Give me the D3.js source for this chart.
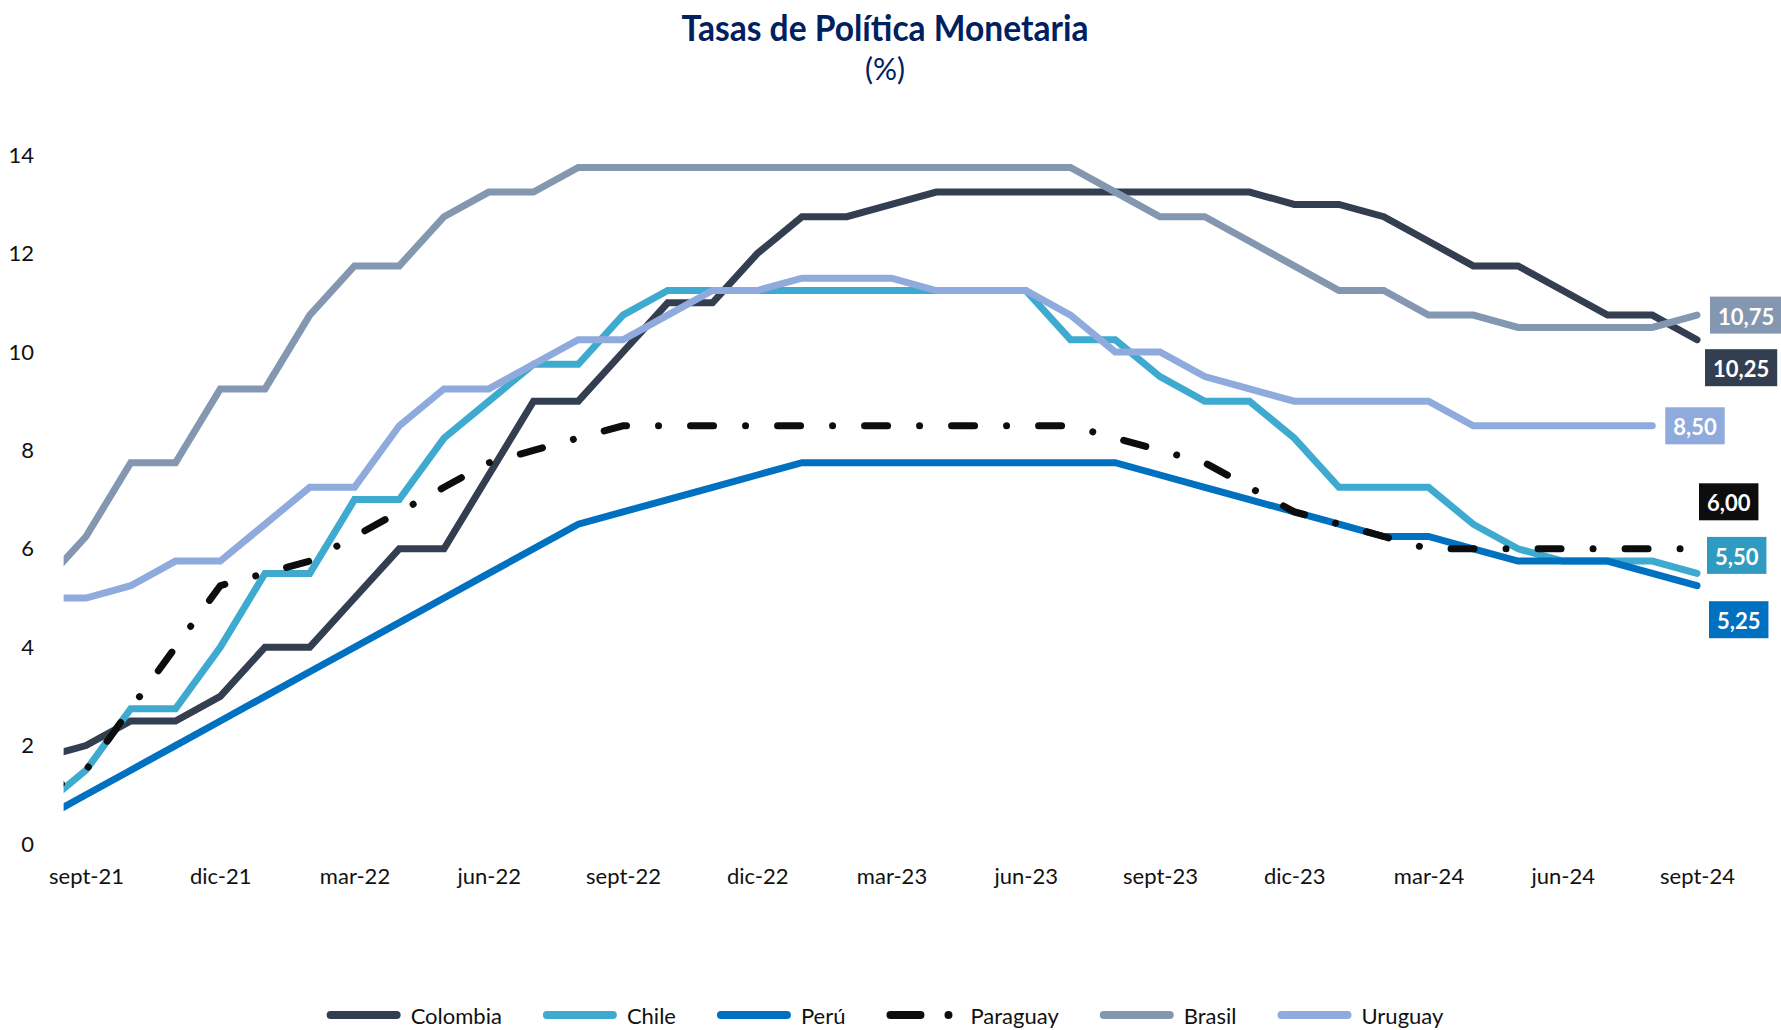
<!DOCTYPE html>
<html>
<head>
<meta charset="utf-8">
<script src="https://cdn.jsdelivr.net/npm/d3@7"></script>
<style>
  html, body { margin: 0; padding: 0; background: #fff; }
  svg { display: block; font-family: Lato, "Open Sans", sans-serif; }
</style>
</head>
<body>
<div id="main"></div>
<script>
const ctx = {
    w: 1781,
    h: 1030,
};

// monthly data, ago-21 .. sept-24
const months = ["ago-21","sept-21","oct-21","nov-21","dic-21",
  "ene-22","feb-22","mar-22","abr-22","may-22","jun-22","jul-22","ago-22","sept-22","oct-22","nov-22","dic-22",
  "ene-23","feb-23","mar-23","abr-23","may-23","jun-23","jul-23","ago-23","sept-23","oct-23","nov-23","dic-23",
  "ene-24","feb-24","mar-24","abr-24","may-24","jun-24","jul-24","ago-24","sept-24"];
const tickIdx = [1, 4, 7, 10, 13, 16, 19, 22, 25, 28, 31, 34, 37];
const yTicks = [0, 2, 4, 6, 8, 10, 12, 14];

const countries = ["Colombia", "Chile", "Perú", "Paraguay", "Brasil", "Uruguay"];

const colombia = [1.75, 2.0, 2.5, 2.5, 3.0, 4.0, 4.0, 5.0, 6.0, 6.0, 7.5, 9.0, 9.0, 10.0, 11.0, 11.0, 12.0,
  12.75, 12.75, 13.0, 13.25, 13.25, 13.25, 13.25, 13.25, 13.25, 13.25, 13.25, 13.0,
  13.0, 12.75, 12.25, 11.75, 11.75, 11.25, 10.75, 10.75, 10.25];
const chile = [0.75, 1.5, 2.75, 2.75, 4.0, 5.5, 5.5, 7.0, 7.0, 8.25, 9.0, 9.75, 9.75, 10.75, 11.25, 11.25, 11.25,
  11.25, 11.25, 11.25, 11.25, 11.25, 11.25, 10.25, 10.25, 9.5, 9.0, 9.0, 8.25,
  7.25, 7.25, 7.25, 6.5, 6.0, 5.75, 5.75, 5.75, 5.5];
const peru = [0.5, 1.0, 1.5, 2.0, 2.5, 3.0, 3.5, 4.0, 4.5, 5.0, 5.5, 6.0, 6.5, 6.75, 7.0, 7.25, 7.5,
  7.75, 7.75, 7.75, 7.75, 7.75, 7.75, 7.75, 7.75, 7.5, 7.25, 7.0, 6.75,
  6.5, 6.25, 6.25, 6.0, 5.75, 5.75, 5.75, 5.5, 5.25];
const paraguay = [1.0, 1.5, 2.75, 4.0, 5.25, 5.5, 5.75, 6.25, 6.75, 7.25, 7.75, 8.0, 8.25, 8.5, 8.5, 8.5, 8.5,
  8.5, 8.5, 8.5, 8.5, 8.5, 8.5, 8.5, 8.25, 8.0, 7.75, 7.25, 6.75,
  6.5, 6.25, 6.0, 6.0, 6.0, 6.0, 6.0, 6.0, 6.0];
const brasil = [5.25, 6.25, 7.75, 7.75, 9.25, 9.25, 10.75, 11.75, 11.75, 12.75, 13.25, 13.25, 13.75, 13.75, 13.75, 13.75, 13.75,
  13.75, 13.75, 13.75, 13.75, 13.75, 13.75, 13.75, 13.25, 12.75, 12.75, 12.25, 11.75,
  11.25, 11.25, 10.75, 10.75, 10.5, 10.5, 10.5, 10.5, 10.75];
// Uruguay has no sept-24 value
const uruguay = [5.0, 5.0, 5.25, 5.75, 5.75, 6.5, 7.25, 7.25, 8.5, 9.25, 9.25, 9.75, 10.25, 10.25, 10.75, 11.25, 11.25,
  11.5, 11.5, 11.5, 11.25, 11.25, 11.25, 10.75, 10.0, 10.0, 9.5, 9.25, 9.0,
  9.0, 9.0, 9.0, 8.5, 8.5, 8.5, 8.5, 8.5];

const seriesValues = [colombia, chile, peru, paraguay, brasil, uruguay];

// styles
const colors = ["#333f50", "#3eaacf", "#0070c0", "#0d0d0d", "#8497b0", "#8faadc"];
const boxColors = ["#333f50", "#2f9bc0", "#0070c0", "#0d0d0d", "#8497b0", "#8faadc"];
const dashes = [null, null, null, "23 32 0.01 32", null, null];
// end label nudges (px) so the boxes don't collide
const nudge = [
  {dx: 8, dy: 28}, {dx: 10, dy: -18}, {dx: 12, dy: 34},
  {dx: 2, dy: -47}, {dx: 13, dy: 0}, {dx: 13, dy: 0}
];

function createViz() {
  const svg = d3.select("#main").append("svg")
      .attr("width", ctx.w)
      .attr("height", ctx.h);

  const x = d3.scaleLinear().domain([1, 37]).range([86, 1697]);
  const y = d3.scaleLinear().domain([0, 14]).range([844, 155.2]);

  // title
  svg.append("text")
     .attr("x", 885).attr("y", 41)
     .attr("text-anchor", "middle")
     .attr("font-size", 36).attr("font-weight", 700)
     .attr("fill", "#002060")
     .attr("textLength", 407).attr("lengthAdjust", "spacingAndGlyphs")
     .text("Tasas de Política Monetaria");
  svg.append("text")
     .attr("x", 885).attr("y", 80)
     .attr("text-anchor", "middle")
     .attr("font-size", 30)
     .attr("fill", "#002060")
     .text("(%)");

  // axes, labels only
  const yAxis = svg.append("g")
     .attr("transform", "translate(34,0)")
     .call(d3.axisLeft(y).tickValues(yTicks).tickSize(0).tickPadding(0));
  const xAxis = svg.append("g")
     .attr("transform", "translate(0,858)")
     .call(d3.axisBottom(x).tickValues(tickIdx).tickSize(0).tickPadding(10)
        .tickFormat(i => months[i]));
  [xAxis, yAxis].forEach(g => {
    g.select(".domain").remove();
    g.selectAll("text")
     .attr("font-family", "Lato, sans-serif")
     .attr("font-size", 22)
     .attr("fill", "#111");
  });

  // clip the first half month
  svg.append("clipPath").attr("id", "plot-clip")
     .append("rect")
     .attr("x", x(0.5)).attr("y", 0)
     .attr("width", ctx.w - x(0.5)).attr("height", ctx.h);

  const line = d3.line()
      .x((d, i) => x(i))
      .y(d => y(d));

  const plot = svg.append("g").attr("clip-path", "url(#plot-clip)");
  plot.selectAll("path")
      .data(seriesValues)
      .enter().append("path")
      .attr("d", line)
      .attr("fill", "none")
      .attr("stroke", (d, i) => colors[i])
      .attr("stroke-width", 7)
      .attr("stroke-linecap", "round")
      .attr("stroke-linejoin", "miter")
      .attr("stroke-dasharray", (d, i) => dashes[i]);

  // end-of-series value boxes
  const fmt = v => d3.format(".2f")(v).replace(".", ",");
  const labels = svg.append("g").selectAll("g")
      .data(seriesValues)
      .enter().append("g");
  labels.each(function(d, i) {
    const g = d3.select(this);
    const last = d.length - 1;
    const cx = x(last) + nudge[i].dx;
    const cy = y(d[last]) + nudge[i].dy;
    const t = g.append("text")
       .attr("font-size", 22).attr("font-weight", 700)
       .attr("fill", "#fff")
       .attr("dominant-baseline", "central")
       .text(fmt(d[last]));
    const tw = t.node().getComputedTextLength();
    g.insert("rect", "text")
       .attr("x", cx).attr("y", cy - 18.5)
       .attr("width", tw + 16).attr("height", 37)
       .attr("fill", boxColors[i]);
    t.attr("x", cx + 8).attr("y", cy + 1);
  });

  // legend
  const legend = svg.append("g").attr("transform", "translate(0,1015)");
  const items = legend.selectAll("g")
      .data(countries)
      .enter().append("g");
  items.each(function(name, i) {
    const g = d3.select(this);
    if (dashes[i]) {
      // long dash + dot
      g.append("path")
       .attr("d", "M4,0H34")
       .attr("stroke", colors[i]).attr("stroke-width", 8)
       .attr("stroke-linecap", "round");
      g.append("circle")
       .attr("cx", 62).attr("cy", 0).attr("r", 4)
       .attr("fill", colors[i]);
    } else {
      g.append("path")
       .attr("d", "M4,0H70")
       .attr("stroke", colors[i]).attr("stroke-width", 8)
       .attr("stroke-linecap", "round");
    }
    g.append("text")
     .attr("x", 84).attr("y", 0)
     .attr("dominant-baseline", "central")
     .attr("font-size", 22).attr("fill", "#111")
     .text(name);
  });
  const widths = [];
  items.each(function() {
    widths.push(84 + d3.select(this).select("text").node().getComputedTextLength());
  });
  const gap = 41;
  const total = d3.sum(widths) + gap * (widths.length - 1);
  let pos = 885 - total / 2;
  items.attr("transform", (d, i) => {
    const tr = `translate(${pos},0)`;
    pos += widths[i] + gap;
    return tr;
  });
}

createViz();
</script>
</body>
</html>
